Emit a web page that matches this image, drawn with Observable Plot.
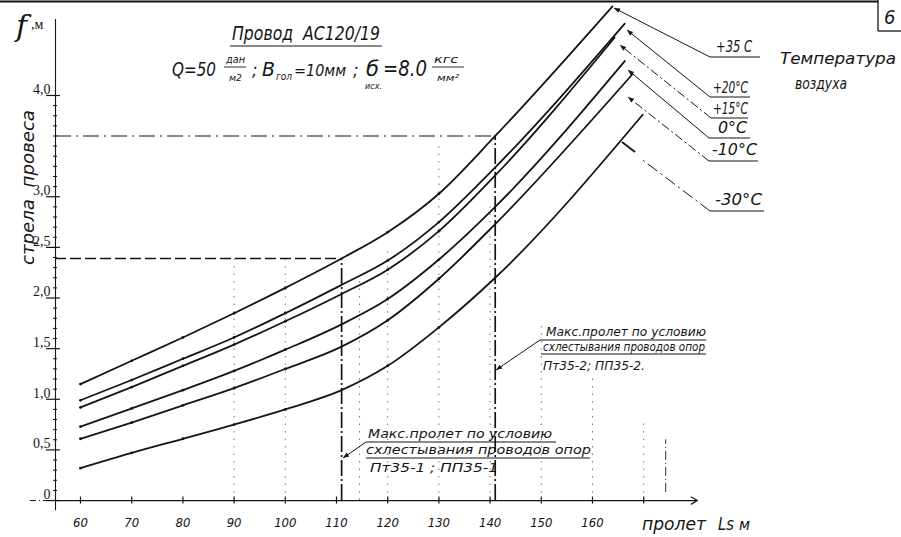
<!DOCTYPE html>
<html><head><meta charset="utf-8">
<script src="https://cdn.jsdelivr.net/npm/d3@7"></script>
<script src="https://cdn.jsdelivr.net/npm/@observablehq/plot@0.6"></script>
<style>body{margin:0;background:#fff}svg{display:block}</style>
</head><body><div id="chart"></div>
<script>
// ---- data (span L, m  vs  sag f, m) ----
const spanPts = [60, 70, 80, 90, 100, 111, 120, 130, 141];
const tempLabels = ["+35 C", "+20°C", "+15°C", "0°C", "-10°C", "-30°C"];
const sagP35 = [1.15, 1.38, 1.61, 1.85, 2.10, 2.39, 2.65, 3.03, 3.60];
const sagP20 = [0.99, 1.19, 1.40, 1.61, 1.85, 2.13, 2.37, 2.75, 3.29];
const sagP15 = [0.92, 1.12, 1.33, 1.54, 1.77, 2.04, 2.28, 2.66, 3.21];
const sagZ0  = [0.73, 0.91, 1.09, 1.28, 1.49, 1.74, 1.99, 2.38, 2.90];
const sagM10 = [0.61, 0.77, 0.94, 1.11, 1.30, 1.52, 1.78, 2.19, 2.73];
const sagM30 = [0.32, 0.47, 0.61, 0.75, 0.90, 1.09, 1.33, 1.71, 2.20];
const endSpans = [163.9, 166.3, 164.3, 166.3, 167.8, 169.8];
const endSags  = [4.88, 4.71, 4.57, 4.34, 4.21, 3.81];
const xTickLabels = [60, 70, 80, 90, 100, 110, 120, 130, 140, 150, 160];
const xTickMarks = [60, 70, 80, 90, 100, 110, 120, 130, 140, 150, 160, 170];
const yTickLabels = [0, 0.5, 1, 1.5, 2, 2.5, 3, 4];
const yMinorTicks = [0.1,0.2,0.3,0.4,0.6,0.7,0.8,0.9,1.1,1.2,1.3,1.4,1.6,1.7,1.8,1.9,2.1,2.2,2.3,2.4,2.6,2.7,2.8,2.9,3.1,3.2,3.3,3.4,3.5,3.6,3.7,3.8,3.9];
// limiting spans (m) and their sags
const limitSpans = [111, 141];
const limitSags = [2.39, 3.60];
// construction (grid) verticals: span, top sag
const gridSpans = [90, 100, 114.5, 120, 130, 140, 150, 160, 170];
const gridTops  = [2.39, 2.39, 2.2, 2.5, 3.5, 2.9, 1.75, 1.2, 0.8];

const series = [sagP35, sagP20, sagP15, sagZ0, sagM10, sagM30];
const rows = [];
series.forEach((s, i) => {
  spanPts.forEach((x, j) => rows.push({t: tempLabels[i], x, y: s[j], end: false}));
  rows.push({t: tempLabels[i], x: endSpans[i], y: endSags[i], end: true});
});
const dotRows = rows.filter(d => !d.end && d.x !== 111 && d.x !== 141);
const limitRows = limitSpans.map((x, i) => ({x, y: limitSags[i]}));
const gridRows = gridSpans.map((x, i) => ({x, top: gridTops[i]}));

const INK = "#151515";
const HAND = "'DejaVu Sans Condensed','DejaVu Sans',sans-serif";
const AX0 = 55.12; // position of the f-axis on the span scale

const chart = Plot.plot({
  width: 901, height: 537, margin: 0,
  style: {background: "#fff", overflow: "visible"},
  x: {domain: [44.375, 220.352], axis: null},
  y: {domain: [-0.365, 4.938], axis: null},
  marks: [
    Plot.ruleX(gridRows, {x: "x", y1: 0, y2: "top", stroke: "#666", strokeWidth: 0.9, strokeDasharray: "1.5,6"}),
    Plot.ruleX([174.3], {y1: 0.08, y2: 0.6, stroke: "#333", strokeWidth: 1, strokeDasharray: "9,3,1,3"}),
    // limiting lines
    Plot.ruleY(limitRows.slice(0, 1), {y: "y", x1: AX0, x2: "x", stroke: INK, strokeWidth: 1.3, strokeDasharray: "11,4"}),
    Plot.ruleY(limitRows.slice(1), {y: "y", x1: AX0, x2: "x", stroke: INK, strokeWidth: 1.1, strokeDasharray: "16,5,2,5"}),
    Plot.ruleX(limitRows, {x: "x", y1: 0, y2: "y", stroke: INK, strokeWidth: 1.7, strokeDasharray: "16,3,2,3"}),
    // f axis
    Plot.ruleX([AX0], {y1: -0.1, y2: 4.75, stroke: INK, strokeWidth: 1.1}),
    Plot.ruleY(yMinorTicks, {y: d => d, x1: 54.73, x2: 55.51, stroke: INK, strokeWidth: 1}),
    Plot.ruleY(yTickLabels, {y: d => d, x1: 53.36, x2: 56.09, stroke: INK, strokeWidth: 1.2}),
    Plot.text(yTickLabels, {x: 54.14, y: d => d, dy: -6, text: d => d === 0 ? "0" : d.toFixed(1).replace(".", ","),
      textAnchor: "end", fontSize: 14, fontFamily: "'Liberation Serif',serif", fill: INK}),
    // span axis
    Plot.ruleY([0], {x1: 50.23, x2: AX0, stroke: INK, strokeWidth: 1, strokeDasharray: "6,3,1,3"}),
    Plot.arrow([{a: AX0, b: 180.5}], {x1: "a", x2: "b", y1: 0, y2: 0, stroke: INK, strokeWidth: 1.2, headLength: 9}),
    Plot.ruleX(xTickMarks, {x: d => d, y1: -0.035, y2: 0.035, stroke: INK, strokeWidth: 1.2}),
    Plot.text(xTickLabels, {x: d => d, y: 0, dy: 22, text: d => String(d), fontSize: 13, fontStyle: "italic",
      fontFamily: HAND, fill: INK}),
    // sag curves
    Plot.line(rows, {x: "x", y: "y", z: "t", curve: "monotone-x", stroke: INK, strokeWidth: 1.8}),
    Plot.dot(dotRows, {x: "x", y: "y", r: 1.4, fill: INK})
  ]
});
document.getElementById("chart").append(chart);

// ---- annotations (hand-lettered texts of the drawing) ----
const svg = d3.select(chart);
svg.append("defs").append("marker").attr("id", "ah").attr("viewBox", "0 0 10 10")
  .attr("refX", 10).attr("refY", 5).attr("markerWidth", 8).attr("markerHeight", 6)
  .attr("orient", "auto").append("path").attr("d", "M0,1L10,5L0,9z").attr("fill", INK);
const g = svg.append("g").attr("fill", INK).attr("font-family", HAND).attr("font-style", "italic")
  .attr("text-anchor", "start");
function T(x, y, s, size, len, anchor) {
  const t = g.append("text").attr("x", x).attr("y", y).attr("font-size", size).text(s);
  if (len) t.attr("textLength", len).attr("lengthAdjust", "spacingAndGlyphs");
  if (anchor) t.attr("text-anchor", anchor);
  return t;
}
function L(x1, y1, x2, y2, w, dash, arrow) {
  const l = g.append("line").attr("x1", x1).attr("y1", y1).attr("x2", x2).attr("y2", y2)
    .attr("stroke", INK).attr("stroke-width", w || 1);
  if (dash) l.attr("stroke-dasharray", dash);
  if (arrow) l.attr("marker-end", "url(#ah)");
  return l;
}
// frame
L(0, 1.5, 878, 1.5, 2.2);
L(878, 0, 878, 31, 1.3); L(878, 31, 901, 31, 1.3);
T(884, 24, "6", 20);
// axis titles
g.append("text").attr("x", 16).attr("y", 36).attr("font-size", 30).attr("font-family", "'DejaVu Serif',serif").text("f");
g.append("text").attr("x", 31).attr("y", 29).attr("font-size", 14).attr("font-style", "normal").attr("font-family", "'Liberation Serif',serif").text(",м");
T(0, 0, "стрела  провеса", 18, 155).attr("transform", "translate(34,265) rotate(-90)");
T(642, 530, "пролет", 17, 64);
T(718, 530, "Ls", 17, 16);
T(739, 530, "м", 16, 11);
// title
T(232, 40, "Провод  АС120/19", 19, 148);
L(230, 46, 382, 46, 1.2);
T(172, 76, "Q=50", 20, 44);
T(226, 63, "дан", 10, 19); L(224, 67, 246, 67, 0.9); T(229, 81, "м2", 9, 13);
T(252, 76, ";", 18);
T(262, 76, "В", 20, 13); T(276, 80, "гол", 10, 16);
T(294, 76, "=10мм", 16, 52);
T(353, 76, ";", 18);
T(366, 76, "б", 22, 13); T(365, 89, "исх.", 8, 17);
T(383, 76, "=8.0", 21, 44);
T(434, 63, "кгс", 10, 24); L(432, 67, 464, 67, 0.9); T(437, 81, "мм²", 9, 22);
// temperature legend
T(780, 64, "Температура", 15, 116);
T(795, 89, "воздуха", 15, 52);
const leg = [
  {s: "+35 C", tx: 716, ty: 52, tl: 36, u1: 710, u2: 760, uy: 57, ax: 614, ay: 8, dash: null},
  {s: "+20°C", tx: 713, ty: 93, tl: 35, u1: 710, u2: 750, uy: 97, ax: 627, ay: 30, dash: null},
  {s: "+15°C", tx: 713, ty: 114, tl: 35, u1: 711, u2: 748, uy: 118, ax: 620, ay: 45, dash: "9,3,2,3"},
  {s: "0°C", tx: 718, ty: 133, tl: 29, u1: 709, u2: 750, uy: 138, ax: 628, ay: 70, dash: null},
  {s: "-10°C", tx: 712, ty: 155, tl: 45, u1: 709, u2: 758, uy: 161, ax: 628, ay: 97, dash: "9,3,2,3"}
];
leg.forEach(d => {
  T(d.tx, d.ty, d.s, 15, d.tl);
  L(d.u1, d.uy, d.u2, d.uy, 1.2);
  L(d.u1, d.uy, d.ax, d.ay, 1, d.dash, true);
});
T(715, 205, "-30°C", 15, 47);
L(710, 211, 764, 211, 1.2);
L(710, 211, 640, 158, 1, "12,4,2,4");
L(622, 142, 635, 152, 1.8);
// note 1 (span 111 m)
T(368, 438, "Макс.пролет по условию", 13, 184);
L(366, 442, 556, 442, 1);
T(366, 454, "схлестывания проводов опор", 13, 225);
L(366, 458, 590, 458, 1);
T(370, 472, "Пт35-1 ; ПП35-1", 13, 128);
L(366, 442, 343, 458, 1, null, true);
// note 2 (span 141 m)
T(546, 336, "Макс.пролет по условию", 13, 160);
L(540, 340, 706, 340, 1);
T(543, 351, "схлестывания проводов опор", 12, 162);
L(541, 354, 706, 354, 1);
T(543, 370, "Пт35-2; ПП35-2.", 13, 102);
L(540, 340, 496, 370, 1, null, true);
</script></body></html>
